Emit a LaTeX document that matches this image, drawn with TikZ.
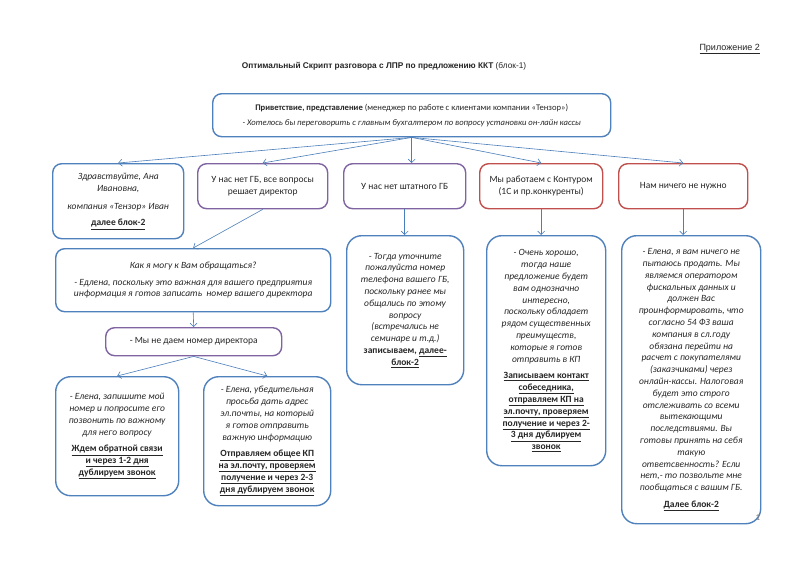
\documentclass[tikz,border=0pt]{standalone}
\usepackage{fontspec}
\setmainfont{Carlito}
\newfontfamily\arialf{Liberation Sans}
\usetikzlibrary{arrows.meta}
\definecolor{bbl}{HTML}{4F81BD}
\definecolor{bpu}{HTML}{8064A2}
\definecolor{bre}{HTML}{C0504D}
\definecolor{arr}{HTML}{4A7EBB}
\definecolor{txt}{HTML}{262626}
\newcommand\ulb[1]{\textbf{\underline{#1}}}
\begin{document}
\begin{tikzpicture}[x=1pt,y=-1pt,
  box/.style={draw, line width=1.4pt, rounded corners=9pt, anchor=north west,
    inner sep=0pt, align=center, text=txt, font=\fontsize{9.5}{11.8}\selectfont},
  bluebox/.style={box, draw=bbl},
  purplebox/.style={box, draw=bpu},
  redbox/.style={box, draw=bre},
  tallbox/.style={rounded corners=15pt},
  conn/.style={draw=arr, line width=0.6pt, -{Straight Barb[length=3.5pt,width=7pt]}},
  plain/.style={inner sep=0pt, text=txt}]
\useasboundingbox[fill=white] (0,0) rectangle (800,565);

\node[plain, anchor=east, font=\arialf\fontsize{9}{10}\selectfont] (app) at (760,49) {\underline{Приложение 2}};
\node[plain, font=\arialf\fontsize{8.3}{10}\selectfont] (title) at (384,66) {\textbf{Оптимальный Скрипт разговора с ЛПР по предложению ККТ} (блок-1)};

\node[bluebox, minimum width=398pt, minimum height=43pt, font=\fontsize{8.6}{11}\selectfont] (top) at (212,93)
 {\textbf{Приветствие, представление} (менеджер по работе с клиентами компании «Тензор»)\\[4pt]
  \textit{- Хотелось бы переговорить с главным бухгалтером по вопросу установки он-лайн кассы}};

\node[bluebox, minimum width=131pt, minimum height=75pt] (b1) at (52,163)
 {\textit{Здравствуйте, Ана}\\ \textit{Ивановна,}\\[6pt] \textit{компания «Тензор» Иван}\\[5pt] \ulb{далее блок-2}};
\node[purplebox, minimum width=130pt, minimum height=45pt] (b2) at (197,163)
 {У нас нет ГБ, все вопросы\\ решает директор};
\node[purplebox, minimum width=122pt, minimum height=45pt] (b3) at (343,163)
 {У нас нет штатного ГБ};
\node[redbox, minimum width=123pt, minimum height=45pt] (b4) at (479,163)
 {Мы работаем с Контуром\\ (1С и пр.конкуренты)};
\node[redbox, minimum width=129pt, minimum height=45pt] (b5) at (618,163)
 {Нам ничего не нужно};

\node[bluebox, minimum width=275pt, minimum height=63pt] (kak) at (55,248)
 {\textit{Как я могу к Вам обращаться?}\\[5pt]
  \textit{- Едлена, поскольку это важная для вашего предприятия}\\
  \textit{информация я готов записать\ \ номер вашего директора}};

\node[purplebox, minimum width=176pt, minimum height=28pt] (ne) at (105,327)
 {- Мы не даем номер директора};

\node[bluebox, tallbox, minimum width=123pt, minimum height=119pt] (b7) at (55,376)
 {\textit{- Елена, запишите мой}\\ \textit{номер и попросите его}\\ \textit{позвонить по важному}\\ \textit{для него вопросу}\\[5pt]
  \ulb{Ждем обратной связи}\\ \ulb{и через 1-2 дня}\\ \ulb{дублируем звонок}};
\node[bluebox, tallbox, minimum width=127pt, minimum height=129pt] (b8) at (203,376)
 {\textit{- Елена, убедительная}\\ \textit{просьба дать адрес}\\ \textit{эл.почты, на который}\\ \textit{я готов отправить}\\ \textit{важную информацию}\\[5pt]
  \ulb{Отправляем общее КП}\\ \ulb{на эл.почту, проверяем}\\ \ulb{получение и через 2-3}\\ \ulb{дня дублируем звонок}};

\node[bluebox, tallbox, minimum width=117pt, minimum height=149pt] (b9) at (346,235)
 {\textit{- Тогда уточните}\\ \textit{пожалуйста номер}\\ \textit{телефона вашего ГБ,}\\ \textit{поскольку ранее мы}\\ \textit{общались по этому}\\ \textit{вопросу}\\ \textit{(встречались не}\\ \textit{семинаре и т.д.)}\\
  \textbf{записываем, \underline{далее-}}\\ \ulb{блок-2}};
\node[bluebox, tallbox, minimum width=119pt, minimum height=230pt] (b10) at (486,235)
 {\textit{- Очень хорошо,}\\ \textit{тогда наше}\\ \textit{предложение будет}\\ \textit{вам однозначно}\\ \textit{интересно,}\\ \textit{поскольку обладает}\\ \textit{рядом существенных}\\ \textit{преимуществ,}\\ \textit{которые я готов}\\ \textit{отправить в КП}\\[5pt]
  \ulb{Записываем контакт}\\ \ulb{собеседника,}\\ \ulb{отправляем КП на}\\ \ulb{эл.почту, проверяем}\\ \ulb{получение и через 2-}\\ \ulb{3 дня дублируем}\\ \ulb{звонок}};
\node[bluebox, tallbox, minimum width=139pt, minimum height=288pt] (b11) at (621,235)
 {\textit{- Елена, я вам ничего не}\\ \textit{пытаюсь продать. Мы}\\ \textit{являемся оператором}\\ \textit{фискальных данных и}\\ \textit{должен Вас}\\ \textit{проинформировать, что}\\ \textit{согласно 54 ФЗ ваша}\\ \textit{компания в сл.году}\\ \textit{обязана перейти на}\\ \textit{расчет с покупателями}\\ \textit{(заказчиками) через}\\ \textit{онлайн-кассы. Налоговая}\\ \textit{будет это строго}\\ \textit{отслеживать со всеми}\\ \textit{вытекающими}\\ \textit{последствиями. Вы}\\ \textit{готовы принять на себя}\\ \textit{такую}\\ \textit{ответсвенность? Если}\\ \textit{нет,- то позвольте мне}\\ \textit{пообщаться с вашим ГБ.}\\[5pt]
  \ulb{Далее блок-2}};

\node[plain, text=gray, font=\fontsize{9}{10}\selectfont] (pg) at (758,518) {1};

\draw[conn] (top.south) -- (b1.north);
\draw[conn] (top.south) -- (b2.north);
\draw[conn] (top.south) -- (top.south |- b3.north);
\draw[conn] (top.south) -- (b4.north);
\draw[conn] (top.south) -- (b5.north);
\draw[conn] (b2.south) -- (kak.north);
\draw[conn] (kak.south) -- (ne.north);
\draw[conn] (ne.south) -- (b7.north);
\draw[conn] (ne.south) -- (b8.north);
\draw[conn] (b3.south) -- (b3.south |- b9.north);
\draw[conn] (b4.south) -- (b4.south |- b10.north);
\draw[conn] (b5.south) -- (b5.south |- b11.north);
\end{tikzpicture}
\end{document}
